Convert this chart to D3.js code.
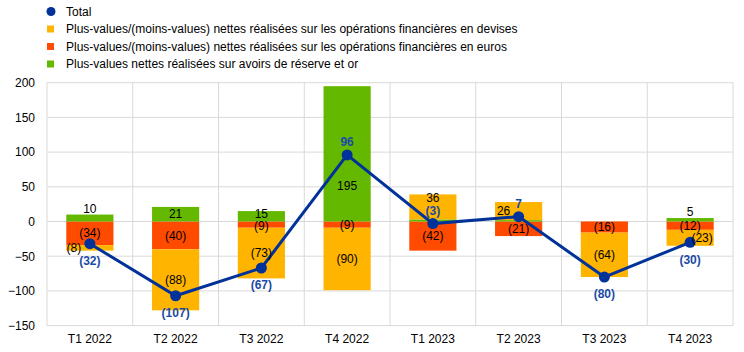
<!DOCTYPE html>
<html><head><meta charset="utf-8">
<script src="https://cdn.jsdelivr.net/npm/d3@7"></script>
<style>
body{margin:0;background:#fff}
text{font-family:"Liberation Sans",Arial,sans-serif}
</style>
</head><body>
<svg id="chart" width="744" height="352"></svg>
<script>
// ---- data ----
const categories = ["T1 2022","T2 2022","T3 2022","T4 2022","T1 2023","T2 2023","T3 2023","T4 2023"];
const devises  = [-8, -88, -73, -90, 36, 26, -64, -23];
const euros    = [-34, -40, -9, -9, -42, -21, -16, -12];
const reserves = [10, 21, 15, 195, 3, 2, 0, 5];
const totals   = [-32, -107, -67, 96, -3, 7, -80, -30];
const yTicks   = [-150, -100, -50, 0, 50, 100, 150, 200];
const legendLabels = [
  "Total",
  "Plus-values/(moins-values) nettes réalisées sur les opérations financières en devises",
  "Plus-values/(moins-values) nettes réalisées sur les opérations financières en euros",
  "Plus-values nettes réalisées sur avoirs de réserve et or"
];

// ---- styles / layout ----
const colors = {total:"#003299", devises:"#FFB400", euros:"#FF4B00", reserves:"#65B800"};
const labelBlue = "#1A4BA6";
const plot = {left:47, right:733, top:82.7, bottom:325.6};

// label nudges (pixel offsets), kept separate from the data
const segNudge = {
  "reserves-0": {mode:"above"},
  "reserves-7": {mode:"above"},
  "reserves-2": {dy:-2.5},
  "euros-2": {dy:1.5},
  "reserves-3": {dy:32},
  "devises-0": {dx:-16},
  "devises-4": {dy:-9.5},
  "devises-5": {dx:-15},
  "devises-7": {dx:12}
};
const totalPos = ["below","below","below","above","above","above","below","below"];

const svg = d3.select("#chart");
const y = d3.scaleLinear().domain([-150, 200]).range([plot.bottom, plot.top]);
const xCell = d3.scaleBand().domain(categories).range([plot.left, plot.right]).padding(0);
const barW = xCell.bandwidth() * 0.55;
const cx = c => xCell(c) + xCell.bandwidth() / 2;

// gridlines
const grid = svg.append("g");
yTicks.forEach(t => {
  grid.append("line").attr("x1", plot.left).attr("x2", plot.right)
    .attr("y1", y(t)).attr("y2", y(t)).attr("stroke", "#d9d9d9").attr("stroke-width", 1);
});
categories.forEach(c => {
  grid.append("line").attr("x1", xCell(c)).attr("x2", xCell(c))
    .attr("y1", plot.top).attr("y2", plot.bottom).attr("stroke", "#d9d9d9");
});
grid.append("line").attr("x1", plot.right).attr("x2", plot.right)
  .attr("y1", plot.top).attr("y2", plot.bottom).attr("stroke", "#d9d9d9");

// y axis labels
const yAxis = d3.axisLeft(y).tickValues(yTicks).tickSize(0).tickPadding(12);
const yg = svg.append("g").attr("transform", `translate(${plot.left},0)`).call(yAxis);
yg.select(".domain").remove();
yg.selectAll("text").attr("font-size", 12).attr("fill", "#000")
  .style("font-family", '"Liberation Sans",Arial,sans-serif');

// x axis labels
const xAxis = d3.axisBottom(xCell).tickSize(0).tickPadding(9);
const xg = svg.append("g").attr("transform", `translate(0,${plot.bottom})`).call(xAxis);
xg.select(".domain").remove();
xg.selectAll("text").attr("font-size", 12).attr("fill", "#000")
  .style("font-family", '"Liberation Sans",Arial,sans-serif');

// stacked bars
const rows = categories.map((c, i) => ({cat:c, i, euros:euros[i], reserves:reserves[i], devises:devises[i]}));
const keys = ["euros", "reserves", "devises"];
const stacked = d3.stack().keys(keys).offset(d3.stackOffsetDiverging)(rows);

const bars = svg.append("g");
stacked.forEach(s => {
  bars.selectAll(null).data(s).enter().append("rect")
    .attr("x", d => cx(d.data.cat) - barW / 2)
    .attr("width", barW)
    .attr("y", d => y(Math.max(d[0], d[1])))
    .attr("height", d => Math.abs(y(d[0]) - y(d[1])))
    .attr("fill", colors[s.key]);
});

// total line & points
const line = d3.line().x((d, i) => cx(categories[i])).y(d => y(d));
svg.append("path").datum(totals).attr("d", line)
  .attr("fill", "none").attr("stroke", colors.total).attr("stroke-width", 3);
svg.append("g").selectAll("circle").data(totals).enter().append("circle")
  .attr("cx", (d, i) => cx(categories[i])).attr("cy", d => y(d)).attr("r", 5.5)
  .attr("fill", colors.total);

const fmt = v => v < 0 ? `(${Math.abs(v)})` : `${v}`;

// segment labels
const lab = svg.append("g").attr("font-size", 12).attr("text-anchor", "middle");
stacked.forEach(s => {
  s.forEach((d, i) => {
    const v = d.data[s.key];
    if (Math.abs(v) < 5) return;
    const n = segNudge[`${s.key}-${i}`] || {};
    let ty = (y(d[0]) + y(d[1])) / 2;
    if (n.mode === "above") ty = y(Math.max(d[0], d[1])) - 6;
    ty += (n.dy || 0);
    lab.append("text").attr("x", cx(categories[i]) + (n.dx || 0)).attr("y", ty)
      .attr("dy", "0.35em").attr("fill", "#000").text(fmt(v));
  });
});

// total labels
totals.forEach((v, i) => {
  lab.append("text").attr("x", cx(categories[i]))
    .attr("y", y(v) + (totalPos[i] === "below" ? 17 : -13))
    .attr("dy", "0.35em").attr("fill", labelBlue).attr("font-weight", "bold").text(fmt(v));
});

// legend
const lg = svg.append("g");
const legendColors = [colors.total, colors.devises, colors.euros, colors.reserves];
const legendY = [11.5, 29, 46.5, 64];
legendLabels.forEach((t, i) => {
  if (i === 0) {
    lg.append("circle").attr("cx", 51).attr("cy", legendY[i]).attr("r", 4.5).attr("fill", legendColors[i]);
  } else {
    lg.append("rect").attr("x", 47).attr("y", legendY[i] - 3.5).attr("width", 7).attr("height", 7).attr("fill", legendColors[i]);
  }
  lg.append("text").attr("x", 66).attr("y", legendY[i]).attr("dy", "0.35em")
    .attr("font-size", 12).attr("fill", "#000").text(t);
});
</script>
</body></html>
